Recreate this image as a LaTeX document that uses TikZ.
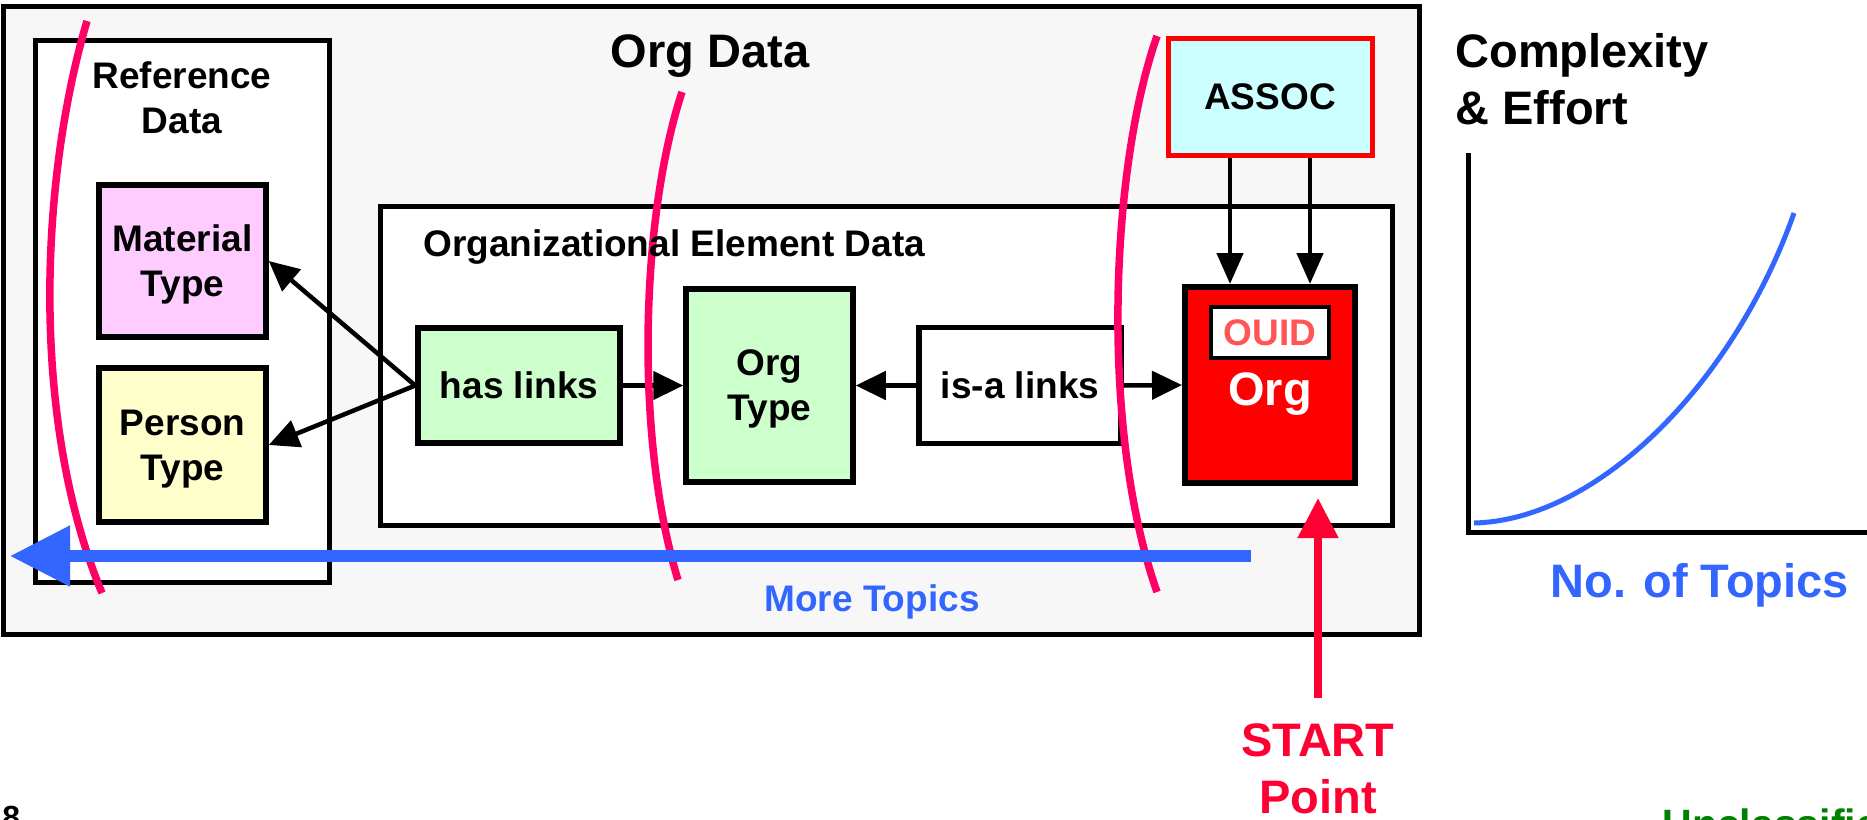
\documentclass[tikz,border=0pt]{standalone}
\usepackage{fontspec}
\setmainfont{Liberation Sans}
\usetikzlibrary{arrows.meta}

\newcommand{\lblfont}{\fontsize{37}{45}\selectfont\bfseries}
\newcommand{\headfont}{\fontsize{47}{57}\selectfont\bfseries}

\tikzset{every picture/.style={line width=0.75pt}}
\tikzset{
  typebox/.style={draw, line width=5.5pt, inner sep=0pt, align=center, text depth=0pt, font=\lblfont},
  link/.style={line width=4.5pt, -{Triangle[length=30pt,width=28pt]}},
  divider/.style={color={rgb, 255:red, 255; green, 0; blue, 102 }, line width=7.5pt},
  topic/.style={color={rgb, 255:red, 51; green, 102; blue, 255 }},
}

\begin{document}
\begin{tikzpicture}[x=1pt,y=1pt,yscale=-1,xscale=1]
	\useasboundingbox (0,0) rectangle (1867,819);

	%Shape: Rectangle
	\draw [line width=5pt, fill={rgb, 255:red, 247; green, 247; blue, 247 }] (3,6) rectangle (1419,634);
	%Shape: Rectangle
	\draw [line width=5pt, fill=white] (35,40) rectangle (329,582);
	%Shape: Rectangle
	\draw [line width=5pt, fill=white] (380,206) rectangle (1392,525);

	%Shape: Boxes
	\node [typebox, fill={rgb, 255:red, 255; green, 204; blue, 255 }, minimum width=167pt, minimum height=152pt] (mattype) at (182.5,261) {Material\\Type};
	\node [typebox, fill={rgb, 255:red, 255; green, 255; blue, 204 }, minimum width=167pt, minimum height=154pt] (perstype) at (182.5,445) {Person\\Type};
	\node [typebox, fill={rgb, 255:red, 204; green, 255; blue, 204 }, minimum width=202pt, minimum height=115pt] (haslinks) at (519,385.5) {has links};
	\node [typebox, fill={rgb, 255:red, 204; green, 255; blue, 204 }, minimum width=167pt, minimum height=193pt] (orgtype) at (769.5,385.5) {Org\\Type};
	\node [typebox, fill=white, minimum width=202pt, minimum height=116pt] (isalinks) at (1020,385.5) {is-a links};
	\node [typebox, line width=6pt, fill=red, minimum width=170pt, minimum height=196pt] (org) at (1270,385) {};
	\node [typebox, line width=3.5pt, fill=white, text={rgb, 255:red, 255; green, 85; blue, 85 }, minimum width=118pt, minimum height=51pt] (ouid) at (1270,332.5) {OUID};
	\node [typebox, draw=red, line width=5pt, fill={rgb, 255:red, 204; green, 255; blue, 255 }, minimum width=204pt, minimum height=117pt] (assoc) at (1270,96.5) {ASSOC};

	%Straight Lines
	\draw [link] (haslinks.west) -- (mattype.east);
	\draw [link] (haslinks.west) -- (perstype.east);
	\draw [link] (haslinks.east) -- (orgtype.west);
	\draw [link] (isalinks.west) -- (orgtype.east);
	\draw [link] (isalinks.east) -- (org.west);
	\draw [link, -{Triangle[length=31pt,width=26pt]}] ([xshift=-40pt]assoc.south) -- ([xshift=-40pt]org.north);
	\draw [link, -{Triangle[length=31pt,width=26pt]}] ([xshift=40pt]assoc.south) -- ([xshift=40pt]org.north);

	%Curve Lines
	\draw [divider] (87,21) .. controls (40,180) and (30,420) .. (102,593);
	\draw [divider] (682,92) .. controls (640,220) and (635,440) .. (678,580);
	\draw [divider] (1157,36) .. controls (1110,170) and (1100,430) .. (1157,592);

	%Straight Lines
	\coordinate (topicsR) at (1251,556);
	\coordinate (topicsL) at (10,556);
	\draw [topic, line width=11.5pt, -{Triangle[length=60pt,width=58pt]}] (topicsR) -- (topicsL);

	% Text Node
	\draw (1318,723) node [anchor=north, inner sep=0pt, font=\headfont, align=center, text={rgb, 255:red, 255; green, 0; blue, 51 }] (start) {START\\Point};
	\coordinate (starttip) at (1318,498);
	\draw [line width=8pt, color={rgb, 255:red, 255; green, 0; blue, 51 }, shorten <=25pt, -{Triangle[length=40pt,width=39pt]}] (start.north) -- (starttip);

	%Straight Lines
	\coordinate (yaxtop) at (1468,153);
	\coordinate (origin) at (1468,532);
	\coordinate (xaxend) at (1867,532);
	\draw [line width=5pt] (yaxtop) -- (origin) -- (xaxend);
	%Curve Lines
	\draw [topic, line width=5pt] (1474,523) .. controls (1600,520) and (1735,380) .. (1794,213);

	% Text Node
	\draw (710,67) node [anchor=base, font=\headfont] (orgdata) {Org Data};
	% Text Node
	\draw (182,61) node [anchor=north, inner sep=0pt, font=\lblfont, align=center] (refdata) {Reference\\Data};
	% Text Node
	\draw (423,256) node [anchor=base west, inner sep=0pt, font=\lblfont] (orgelem) {Organizational Element Data};
	% Text Node
	\draw (1270,405) node [anchor=base, font=\headfont, text=white] (orglbl) {Org};
	% Text Node
	\draw (872,611) node [anchor=base, font=\lblfont, topic] (moretopics) {More Topics};
	% Text Node
	\draw (1455,33) node [anchor=north west, inner sep=0pt, font=\headfont, align=left] (complexity) {Complexity\\\& Effort};
	% Text Node
	\draw (1550,597) node [anchor=base west, inner sep=0pt, font=\headfont, topic] (notopics) {No. of Topics};
	% Text Node
	\draw (2,806) node [anchor=north west, inner sep=0pt, font=\fontsize{32}{38}\selectfont\bfseries] (pagenum) {8};
	% Text Node
	\draw (1662,808) node [anchor=north west, inner sep=0pt, font=\fontsize{41}{49}\selectfont\bfseries, text={rgb, 255:red, 0; green, 128; blue, 0 }] (unclass) {Unclassified};

\end{tikzpicture}
\end{document}
